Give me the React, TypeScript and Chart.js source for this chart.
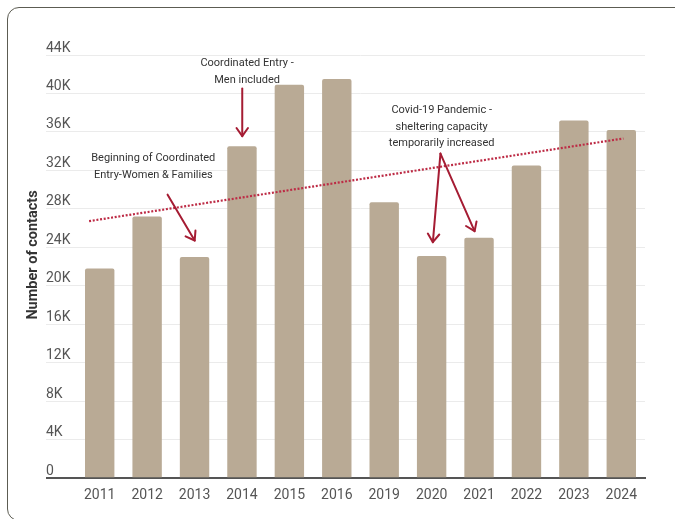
import { useEffect, useRef } from 'react';
import { Chart, registerables } from 'chart.js';

Chart.register(...registerables);

// ---------- data ----------
const categories = ['2011', '2012', '2013', '2014', '2015', '2016', '2019', '2020', '2021', '2022', '2023', '2024'];
const contacts = [21800, 27200, 23000, 34500, 40900, 41500, 28700, 23100, 25000, 32500, 37200, 36200];
const yMax = 44000;
const yStep = 4000;
// trend line end points (category index, value)
const trendIndex = [-0.224, 11.045];
const trendValue = [26730, 35320];
const yTitle = 'Number of contacts';

// annotations, anchored in data space (category index, value)
const noteTexts = [
  ['Beginning of Coordinated', 'Entry-Women & Families'],
  ['Coordinated Entry -', 'Men included'],
  ['Covid-19 Pandemic -', 'sheltering capacity', 'temporarily increased'],
];
const noteAnchors = [
  [1.13, 33260],
  [3.108, 43170],
  [7.212, 38270],
];
const arrows = [
  [[1.432, 29480], [2.003, 24710]],
  [[3.006, 40530], [3.006, 35560]],
  [[7.186, 33750], [7.026, 24540]],
  [[7.186, 33750], [7.906, 25680]],
];

const FONT = 'Roboto';

const notesPlugin = {
  id: 'notes',
  afterDatasetsDraw(chart: any) {
    const { ctx, scales } = chart;
    const xs = scales.x2;
    const ys = scales.y;
    ctx.save();
    // annotation text
    ctx.font = `11px ${FONT}`;
    ctx.fillStyle = '#333333';
    ctx.textAlign = 'center';
    ctx.textBaseline = 'middle';
    noteTexts.forEach((lines, i) => {
      const x = xs.getPixelForValue(noteAnchors[i][0]);
      const y = ys.getPixelForValue(noteAnchors[i][1]);
      lines.forEach((l, j) => ctx.fillText(l, x, y + j * 16.8));
    });
    // arrows
    ctx.strokeStyle = '#a51c33';
    ctx.lineWidth = 2;
    ctx.lineCap = 'round';
    ctx.lineJoin = 'round';
    arrows.forEach(([from, to]) => {
      const x1 = xs.getPixelForValue(from[0]);
      const y1 = ys.getPixelForValue(from[1]);
      const x2 = xs.getPixelForValue(to[0]);
      const y2 = ys.getPixelForValue(to[1]);
      ctx.beginPath();
      ctx.moveTo(x1, y1);
      ctx.lineTo(x2, y2);
      ctx.stroke();
      const ang = Math.atan2(y2 - y1, x2 - x1);
      const hl = 10;
      const ha = (35 * Math.PI) / 180;
      ctx.beginPath();
      ctx.moveTo(x2 - hl * Math.cos(ang - ha), y2 - hl * Math.sin(ang - ha));
      ctx.lineTo(x2, y2);
      ctx.lineTo(x2 - hl * Math.cos(ang + ha), y2 - hl * Math.sin(ang + ha));
      ctx.stroke();
    });
    // y-axis title
    ctx.font = `bold 14.5px ${FONT}`;
    ctx.fillStyle = '#333333';
    ctx.translate(33, 255);
    ctx.rotate(-Math.PI / 2);
    ctx.textAlign = 'center';
    ctx.textBaseline = 'middle';
    ctx.fillText(yTitle, 0, 0);
    ctx.restore();
  },
};

export default function App() {
  const ref = useRef<HTMLCanvasElement>(null);
  useEffect(() => {
    if (!ref.current) return;
    Chart.defaults.font.family = FONT;
    const chart = new Chart(ref.current, {
      type: 'bar',
      data: {
        labels: categories,
        datasets: [
          {
            type: 'line',
            label: 'Trend',
            xAxisID: 'x2',
            yAxisID: 'y',
            data: trendIndex.map((x, i) => ({ x, y: trendValue[i] })),
            borderColor: '#bd2b45',
            borderWidth: 2.2,
            borderDash: [2, 1.7],
            pointRadius: 0,
            fill: false,
            order: 0,
          } as any,
          {
            type: 'bar',
            label: 'Contacts',
            xAxisID: 'x',
            yAxisID: 'y',
            data: contacts,
            backgroundColor: '#b9aa95',
            borderRadius: 2,
            borderSkipped: 'bottom',
            grouped: false,
            barPercentage: 0.62,
            categoryPercentage: 1,
            order: 1,
          },
        ],
      },
      options: {
        animation: false,
        responsive: false,
        maintainAspectRatio: false,
        layout: { padding: { left: 46, right: 30, top: 55, bottom: 6 } },
        plugins: {
          legend: { display: false },
          tooltip: { enabled: false },
        },
        scales: {
          x: {
            type: 'category',
            offset: true,
            z: 1,
            grid: { display: false, drawTicks: false },
            border: { display: true, color: '#555555', width: 2 },
            ticks: { color: '#555555', font: { size: 14 }, padding: 9 },
          },
          x2: {
            type: 'linear',
            min: -0.5,
            max: 11.5,
            offset: false,
            display: false,
          },
          y: {
            min: 0,
            max: yMax,
            border: { display: false },
            afterFit: (s: any) => {
              s.width = 30;
            },
            grid: {
              color: (c: any) => (c.tick && c.tick.value === 0 ? '#555555' : '#ebebeb'),
              lineWidth: (c: any) => (c.tick && c.tick.value === 0 ? 2 : 1),
              tickLength: 30,
              drawTicks: true,
            },
            ticks: {
              stepSize: yStep,
              align: 'end',
              crossAlign: 'far',
              padding: 0,
              color: '#555555',
              font: { size: 14 },
              callback: (v: any) => (v === 0 ? '0' : `${v / 1000}K`),
            },
          },
        },
      },
      plugins: [notesPlugin],
    } as any);
    return () => chart.destroy();
  }, []);
  return (
    <div style={{ position: 'fixed', left: 0, top: 0, width: 675, height: 519, overflow: 'hidden', background: '#ffffff' }}>
      <div
        style={{
          position: 'absolute',
          left: 7,
          top: 7,
          width: 700,
          height: 514,
          border: '1.5px solid #5c5c52',
          borderRadius: 12,
          boxSizing: 'border-box',
        }}
      />
      <canvas ref={ref} width={675} height={519} style={{ position: 'absolute', left: 0, top: 0, width: 675, height: 519 }} />
    </div>
  );
}
